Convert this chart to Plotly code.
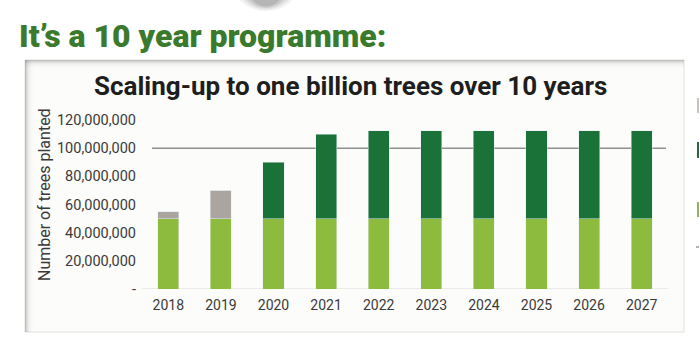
import plotly.graph_objects as go

years = ["2018", "2019", "2020", "2021", "2022", "2023", "2024", "2025", "2026", "2027"]
base_planting = [50e6, 50e6, 50e6, 50e6, 50e6, 50e6, 50e6, 50e6, 50e6, 50e6]
other_planting = [5e6, 20e6, 0, 0, 0, 0, 0, 0, 0, 0]
scale_up = [0, 0, 40e6, 60e6, 62.5e6, 62.5e6, 62.5e6, 62.5e6, 62.5e6, 62.5e6]
target = 100e6
y_ticks = [0, 20e6, 40e6, 60e6, 80e6, 100e6, 120e6]
y_tick_labels = ["-", "20,000,000", "40,000,000", "60,000,000", "80,000,000", "100,000,000", "120,000,000"]

LIGHT = "#8dbb3d"
DARK = "#1b7239"
GRAY = "#aba59f"

W, H = 699, 355
L, R, T, B = 142, 668, 120, 289


def px(x):
    return (x - L) / (R - L)


def py(y):
    return (B - y) / (B - T)


fig = go.Figure()
fig.add_bar(x=years, y=base_planting, marker_color=LIGHT, name="base", hoverinfo="skip")
fig.add_bar(x=years, y=other_planting, marker_color=GRAY, name="other", hoverinfo="skip")
fig.add_bar(x=years, y=scale_up, marker_color=DARK, name="scale", hoverinfo="skip")

shapes = []
# panel with soft shadow
shapes.append(dict(type="rect", xref="paper", yref="paper", x0=px(25), x1=px(684), y0=py(332), y1=py(60),
                   fillcolor="#fcfcfa", line=dict(color="#e2e2e0", width=1), layer="below"))
for i, op in enumerate([0.4, 0.3, 0.2, 0.13, 0.08, 0.05, 0.03, 0.015]):
    shapes.append(dict(type="rect", xref="paper", yref="paper", x0=px(25), x1=px(684),
                       y0=py(61 + i), y1=py(60 + i), fillcolor=f"rgba(120,120,120,{op})",
                       line=dict(width=0), layer="below"))
    shapes.append(dict(type="rect", xref="paper", yref="paper", x0=px(25 + i), x1=px(26 + i),
                       y0=py(332), y1=py(60), fillcolor=f"rgba(120,120,120,{op})",
                       line=dict(width=0), layer="below"))
# top decorative shadow blob
for i, op in enumerate([0.12, 0.18, 0.28, 0.4]):
    shapes.append(dict(type="circle", xref="paper", yref="paper",
                       x0=px(234 + i * 4), x1=px(298 - i * 4), y0=py(11 - i * 1.5), y1=py(-40),
                       fillcolor=f"rgba(150,150,150,{op})", line=dict(width=0), layer="below"))
# baseline
shapes.append(dict(type="line", xref="paper", yref="y", x0=0, x1=1, y0=0, y1=0,
                   line=dict(color="#d9d9d9", width=1.2), layer="below"))
# target line
shapes.append(dict(type="line", xref="x", yref="y", x0=-0.31, x1=9.46, y0=target, y1=target,
                   line=dict(color="#8f8f8f", width=1.5), layer="below"))
# clipped legend markers at right edge
shapes.append(dict(type="rect", xref="paper", yref="paper", x0=px(697), x1=px(700), y0=py(113), y1=py(98),
                   fillcolor="#c8c4c0", line=dict(width=0)))
shapes.append(dict(type="rect", xref="paper", yref="paper", x0=px(697), x1=px(700), y0=py(158), y1=py(142),
                   fillcolor=DARK, line=dict(width=0)))
shapes.append(dict(type="rect", xref="paper", yref="paper", x0=px(697), x1=px(700), y0=py(217), y1=py(202),
                   fillcolor=LIGHT, line=dict(width=0)))
shapes.append(dict(type="line", xref="paper", yref="paper", x0=px(696), x1=px(700), y0=py(247), y1=py(247),
                   line=dict(color="#9a9a9a", width=1.5)))

annotations = [
    dict(text="It\u2019s a 10 year programme:", xref="paper", yref="paper", x=px(17), y=py(36),
         xanchor="left", yanchor="middle", showarrow=False,
         font=dict(family="Roboto", size=32, color="#3a7a2c", weight=900)),
    dict(text="Scaling-up to one billion trees over 10 years", xref="paper", yref="paper",
         x=px(350), y=py(86), xanchor="center", yanchor="middle", showarrow=False,
         font=dict(family="Roboto", size=26, color="#1e1e1e", weight="bold")),
    dict(text="Number of trees planted", xref="paper", yref="paper", x=px(44), y=py(195),
         xanchor="center", yanchor="middle", textangle=-90, showarrow=False,
         font=dict(family="Roboto", size=16, color="#3a3a3a")),
]

fig.update_layout(
    width=W, height=H,
    margin=dict(l=L, r=W - R, t=T, b=H - B, pad=0),
    barmode="stack", bargap=0.6,
    paper_bgcolor="white", plot_bgcolor="rgba(0,0,0,0)",
    showlegend=False,
    shapes=shapes, annotations=annotations,
    xaxis=dict(showgrid=False, showline=False, zeroline=False, ticks="",
               tickfont=dict(family="Roboto", size=14, color="#3a3a3a"), ticklabelstandoff=6),
    yaxis=dict(range=[0, 120e6], tickvals=y_ticks, ticktext=y_tick_labels, showgrid=False,
               showline=False, zeroline=False, ticks="",
               tickfont=dict(family="Roboto", size=14.5, color="#3a3a3a"), ticklabelstandoff=5),
)

fig.write_html("out.html", config={"displayModeBar": False},
               post_script="document.body.style.margin='0';")
